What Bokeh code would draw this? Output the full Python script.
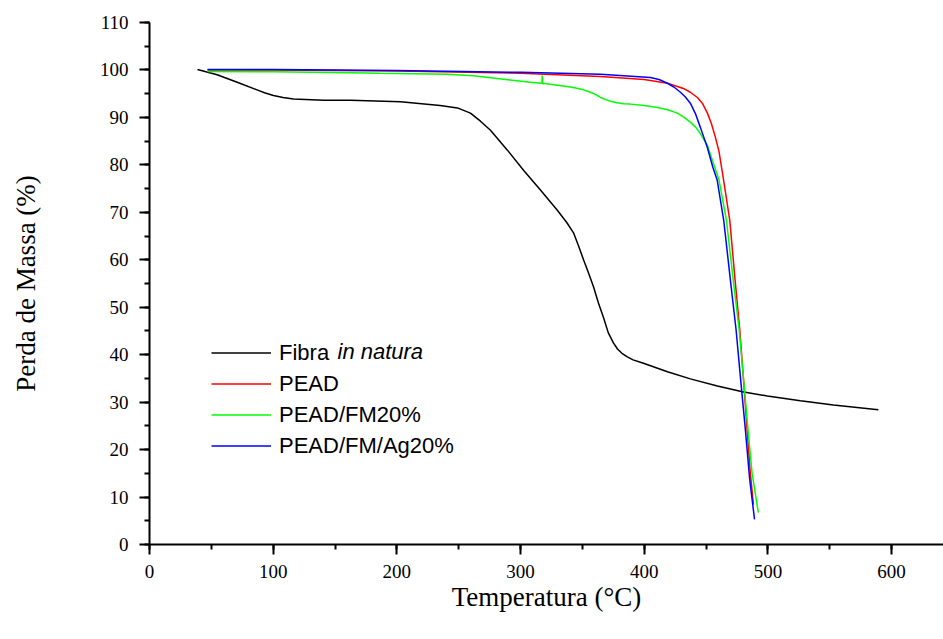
from bokeh.plotting import figure
from bokeh.models import Range1d, Legend, LegendItem, Label, SingleIntervalTicker
from bokeh.embed import file_html
from bokeh.resources import INLINE

# ---- data ----
fibra_x = [38.8, 54.7, 70.9, 87.0, 93.0, 100.2, 108.0, 116.4, 140.7, 162.5, 203.0, 235.0,
           249.0, 259.5, 267.6, 275.7, 289.4, 302.6, 316.1, 329.6, 337.5, 343.0, 346.8,
           351.1, 355.0, 359.0, 363.0, 367.0, 371.0, 375.1, 378.4, 382.0, 386.0, 391.0,
           399.4, 418.8, 437.3, 459.2, 479.4, 499.6, 526.3, 553.0, 589.3]
fibra_y = [100.1, 99.0, 97.4, 95.8, 95.2, 94.6, 94.2, 93.9, 93.6, 93.6, 93.3, 92.5,
           92.0, 90.9, 89.2, 87.3, 83.1, 78.8, 74.7, 70.5, 67.8, 65.6, 63.0,
           59.9, 57.2, 54.3, 50.9, 47.9, 44.6, 42.5, 41.2, 40.3, 39.6, 38.9,
           38.2, 36.4, 34.9, 33.4, 32.2, 31.3, 30.3, 29.4, 28.4]

pead_x = [46.9, 100, 200, 300, 364.6, 400.0, 418.8, 431.7, 437.3, 443.0, 447.0, 451.1,
          454.3, 457.6, 460.5, 464.2, 469.2, 473.5, 477.3, 480.3, 483.2, 485.8, 488.3]
pead_y = [100.0, 100.0, 99.8, 99.3, 98.6, 98.0, 97.2, 96.1, 95.3, 94.2, 93.0, 90.9,
          88.7, 85.8, 82.8, 76.8, 68.3, 55.7, 45.2, 34.7, 24.2, 15.1, 8.4]

fm_x = [46.9, 100, 162, 186.7, 240.9, 262.0, 281.3, 308.0, 317.3, 317.6, 317.9, 318.3,
        330.0, 342.8, 350.0, 356.5, 361.0, 364.6, 368.5, 372.7, 378.0, 383.0, 388.8,
        400.0, 410.7, 419.0, 426.8, 431.7, 437.3, 441.4, 445.4, 451.1, 455.1, 460.5,
        466.5, 472.0, 476.8, 480.4, 483.9, 487.2, 492.3]
fm_y = [99.7, 99.6, 99.4, 99.3, 99.1, 98.8, 98.2, 97.4, 97.2, 98.8, 97.0, 97.2,
        96.8, 96.3, 95.9, 95.3, 94.8, 94.2, 93.8, 93.4, 93.1, 92.9, 92.8,
        92.5, 92.1, 91.6, 90.9, 90.1, 89.0, 88.0, 86.6, 84.1, 81.0, 76.8,
        68.3, 55.7, 45.2, 34.7, 24.2, 15.1, 6.7]

ag_x = [46.9, 100, 200, 300, 364.6, 405.0, 412.0, 418.8, 424.0, 429.3, 433.3, 437.3,
        441.4, 445.4, 451.0, 455.5, 459.0, 464.3, 469.7, 474.3, 478.0, 481.8, 485.3, 489.2]
ag_y = [100.1, 100.1, 99.9, 99.5, 99.1, 98.4, 98.0, 97.2, 96.4, 95.3, 94.3, 93.0,
        90.8, 87.9, 83.7, 79.5, 76.8, 68.3, 55.7, 45.2, 34.7, 24.2, 13.7, 5.3]

series_names = ["Fibra", "PEAD", "PEAD/FM20%", "PEAD/FM/Ag20%"]
series_colors = ["#000000", "#FF0000", "#00FF00", "#0000FF"]

p = figure(width=943, height=639, output_backend="svg", toolbar_location=None,
           x_range=Range1d(0, 642), y_range=Range1d(0, 110),
           min_border_left=149, min_border_right=0, min_border_top=22, min_border_bottom=95)
p.outline_line_color = None
p.xgrid.visible = False
p.ygrid.visible = False
p.background_fill_color = "white"
p.border_fill_color = "white"

r1 = p.line(fibra_x, fibra_y, line_color=series_colors[0], line_width=1.5)
r2 = p.line(pead_x, pead_y, line_color=series_colors[1], line_width=1.5)
r3 = p.line(fm_x, fm_y, line_color=series_colors[2], line_width=1.5)
r4 = p.line(ag_x, ag_y, line_color=series_colors[3], line_width=1.5)

p.xaxis.ticker = SingleIntervalTicker(interval=100, num_minor_ticks=2)
p.yaxis.ticker = SingleIntervalTicker(interval=10, num_minor_ticks=2)

for ax in (p.xaxis[0], p.yaxis[0]):
    ax.axis_line_width = 2
    ax.axis_line_color = "black"
    ax.major_tick_line_width = 2
    ax.minor_tick_line_width = 2
    ax.major_tick_line_color = "black"
    ax.minor_tick_line_color = "black"
    ax.major_tick_out = 10
    ax.major_tick_in = 0
    ax.minor_tick_out = 5
    ax.minor_tick_in = 0
    ax.major_label_text_font = "Liberation Serif"
    ax.major_label_text_font_size = "19px"
    ax.major_label_text_color = "black"
    ax.axis_label_text_font = "Liberation Serif"
    ax.axis_label_text_font_size = "27px"
    ax.axis_label_text_font_style = "normal"
    ax.axis_label_text_color = "black"

p.xaxis.axis_label = "Temperatura (°C)"
p.yaxis.axis_label = "Perda de Massa (%)"
p.xaxis.major_label_standoff = 10
p.yaxis.major_label_standoff = 11
p.xaxis.axis_label_standoff = 1
p.yaxis.axis_label_standoff = 56

legend = Legend(items=[LegendItem(label=series_names[i], renderers=[r])
                       for i, r in enumerate([r1, r2, r3, r4])],
                location=(62, 83), orientation="vertical")
legend.label_text_font = "Liberation Sans"
legend.label_text_font_size = "22px"
legend.label_text_color = "black"
legend.glyph_width = 60
legend.glyph_height = 31
legend.label_height = 31
legend.label_standoff = 8
legend.spacing = 0
legend.padding = 0
legend.margin = 0
legend.border_line_color = None
legend.background_fill_alpha = 0
p.add_layout(legend)

p.add_layout(Label(x=152, y=40.6, text="in natura", text_font="Liberation Sans",
                   text_font_size="22px", text_font_style="italic",
                   text_baseline="middle", text_color="black"))

open("out.html", "w").write(file_html(p, INLINE))
